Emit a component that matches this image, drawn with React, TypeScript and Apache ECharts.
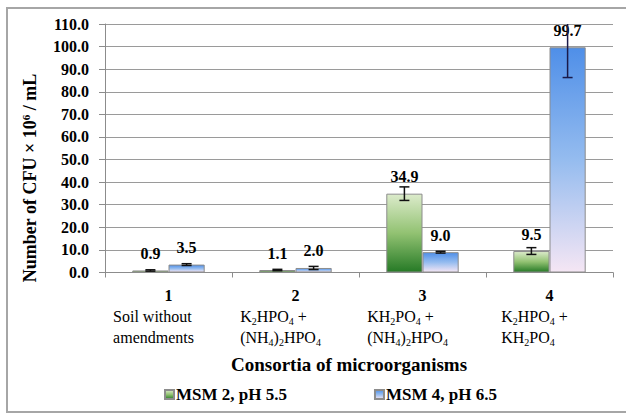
import React, { useEffect, useRef } from 'react';
import * as echarts from 'echarts';

const categories = ['1', '2', '3', '4'];
const categoryText = [
  ['Soil without', 'amendments'],
  ['K_2HPO_4 +', '(NH_4)_2HPO_4'],
  ['KH_2PO_4 +', '(NH_4)_2HPO_4'],
  ['K_2HPO_4 +', 'KH_2PO_4'],
];
const seriesNames = ['MSM 2, pH 5.5', 'MSM 4, pH 6.5'];
const msm2Values = [0.9, 1.1, 34.9, 9.5];
const msm4Values = [3.5, 2.0, 9.0, 99.7];
const msm2Errors = [0.3, 0.3, 3.0, 1.5];
const msm4Errors = [0.4, 0.7, 0.4, 13.4];
const yMin = 0;
const yMax = 110;
const yInterval = 10;
const xTitle = 'Consortia of microorganisms';

const FONT = 'Liberation Serif';

function toRich(line: string): string {
  const tokens: { style: string; text: string }[] = [];
  let buf = '';
  for (let i = 0; i < line.length; i++) {
    if (line[i] === '_' && i + 1 < line.length) {
      if (buf) tokens.push({ style: 't', text: buf });
      buf = '';
      tokens.push({ style: 's', text: line[i + 1] });
      i++;
    } else {
      buf += line[i];
    }
  }
  if (buf) tokens.push({ style: 't', text: buf });
  return tokens
    .map((tk, idx) => `{${tk.style}${idx === tokens.length - 1 ? 'e' : ''}|${tk.text}}`)
    .join('');
}

export default function App() {
  const ref = useRef<HTMLDivElement>(null);
  useEffect(() => {
    if (!ref.current) return;
    const chart = echarts.init(ref.current, undefined, { renderer: 'svg' });

    const greenGrad = new echarts.graphic.LinearGradient(0, 0, 0, 1, [
      { offset: 0, color: '#dcebcb' },
      { offset: 0.5, color: '#92c272' },
      { offset: 1, color: '#267a26' },
    ]);
    const blueGrad = new echarts.graphic.LinearGradient(0, 0, 0, 1, [
      { offset: 0, color: '#4f8fe8' },
      { offset: 0.5, color: '#95bcef' },
      { offset: 1, color: '#f5e6f4' },
    ]);

    const textStyle = { fontFamily: FONT, fontSize: 16, color: '#000', lineHeight: 21, align: 'left' };
    const subStyle = { fontFamily: FONT, fontSize: 10, color: '#000', lineHeight: 14, verticalAlign: 'bottom', align: 'left' };
    const padR = 30;

    const errData: number[][] = [];
    msm2Values.forEach((v, i) => errData.push([i, v, msm2Errors[i], 0]));
    msm4Values.forEach((v, i) => errData.push([i, v, msm4Errors[i], 1]));

    const valueLabel = {
      show: true,
      position: 'top',
      distance: 9,
      fontFamily: FONT,
      fontWeight: 'bold',
      fontSize: 16,
      color: '#000',
      formatter: (p: any) => Number(p.value).toFixed(1),
    };

    chart.setOption({
      animation: false,
      backgroundColor: '#fff',
      textStyle: { fontFamily: FONT },
      grid: { left: 105, right: 13, top: 24, bottom: 143.5, containLabel: false },
      legend: {
        data: seriesNames,
        left: 164,
        top: 386,
        padding: 0,
        itemGap: 87,
        itemWidth: 9,
        itemHeight: 9,
        icon: 'rect',
        textStyle: { fontFamily: FONT, fontWeight: 'bold', fontSize: 17, color: '#000', padding: [0, 0, 0, -3] },
      },
      xAxis: {
        type: 'category',
        data: categories,
        axisLine: { lineStyle: { color: '#8c8c8c', width: 1 } },
        axisTick: { show: true, length: 5, lineStyle: { color: '#8c8c8c' } },
        axisLabel: {
          interval: 0,
          margin: 12,
          align: 'center',
          formatter: (val: string, idx: number) => {
            const lines = categoryText[idx].map((l) => toRich(l));
            return [`{num|${val}}`, ...lines].join('\n');
          },
          rich: {
            num: { fontFamily: FONT, fontSize: 16, fontWeight: 'bold', color: '#000', lineHeight: 21, align: 'center' },
            t: textStyle,
            te: { ...textStyle, padding: [0, padR, 0, 0] },
            s: subStyle,
            se: { ...subStyle, padding: [0, padR, 0, 0] },
          },
        },
      },
      yAxis: {
        type: 'value',
        min: yMin,
        max: yMax,
        interval: yInterval,
        axisLine: { show: true, lineStyle: { color: '#8c8c8c', width: 1 } },
        axisTick: { show: true, length: 6, lineStyle: { color: '#8c8c8c' } },
        splitLine: { lineStyle: { color: '#9a9a9a', width: 1 } },
        axisLabel: {
          margin: 16,
          fontFamily: FONT,
          fontWeight: 'bold',
          fontSize: 16,
          color: '#000',
          formatter: (v: number) => v.toFixed(1),
        },
      },
      series: [
        {
          name: seriesNames[0],
          type: 'bar',
          data: msm2Values,
          barGap: '0%',
          barCategoryGap: '43%',
          itemStyle: { color: greenGrad, borderColor: '#8c8c8c', borderWidth: 1 },
          label: valueLabel,
        },
        {
          name: seriesNames[1],
          type: 'bar',
          data: msm4Values,
          barGap: '0%',
          barCategoryGap: '43%',
          itemStyle: { color: blueGrad, borderColor: '#8c8c8c', borderWidth: 1 },
          label: valueLabel,
        },
        {
          name: 'errors',
          type: 'custom',
          data: errData,
          encode: { x: 0, y: 1 },
          z: 3,
          silent: true,
          renderItem: (params: any, api: any) => {
            const cat = api.value(0);
            const val = api.value(1);
            const err = api.value(2);
            const s = api.value(3);
            const band = api.size([1, 0])[0];
            const off = (s === 0 ? -1 : 1) * band * 0.1425;
            const x = api.coord([cat, val])[0] + off;
            const topVal = val + err;
            const clipped = topVal > yMax;
            const yTop = api.coord([cat, Math.min(topVal, yMax)])[1];
            const yBot = api.coord([cat, Math.max(val - err, 0)])[1];
            const cap = 5;
            const style = { stroke: s === 1 && clipped ? '#1a1a4a' : '#111', lineWidth: 1.5 };
            const children: any[] = [
              { type: 'line', shape: { x1: x, y1: yTop, x2: x, y2: yBot }, style },
              { type: 'line', shape: { x1: x - cap, y1: yBot, x2: x + cap, y2: yBot }, style },
            ];
            if (!clipped) {
              children.push({ type: 'line', shape: { x1: x - cap, y1: yTop, x2: x + cap, y2: yTop }, style });
            }
            return { type: 'group', children };
          },
        },
      ],
      graphic: [
        {
          type: 'rect',
          silent: true,
          z: -10,
          shape: { x: 7, y: 8, width: 640, height: 404 },
          style: { fill: 'none', stroke: '#a6a6a6', lineWidth: 2 },
        },
        {
          type: 'text',
          x: 30,
          y: 178,
          rotation: Math.PI / 2,
          style: {
            text: '{a|Number of CFU × 10}{sup|6}{a| / mL}',
            align: 'center',
            verticalAlign: 'middle',
            rich: {
              a: { fontFamily: FONT, fontWeight: 'bold', fontSize: 18, fill: '#000', lineHeight: 20 },
              sup: { fontFamily: FONT, fontWeight: 'bold', fontSize: 11, fill: '#000', lineHeight: 12, verticalAlign: 'top' },
            },
          },
        },
        {
          type: 'text',
          x: 349,
          y: 364,
          style: {
            text: xTitle,
            align: 'center',
            verticalAlign: 'middle',
            fontFamily: FONT,
            fontWeight: 'bold',
            fontSize: 19,
            fill: '#000',
          },
        },
      ],
    });
    return () => chart.dispose();
  }, []);
  return (
    <div
      ref={ref}
      style={{ position: 'absolute', left: 0, top: 0, width: 626, height: 416, background: '#fff' }}
    />
  );
}
